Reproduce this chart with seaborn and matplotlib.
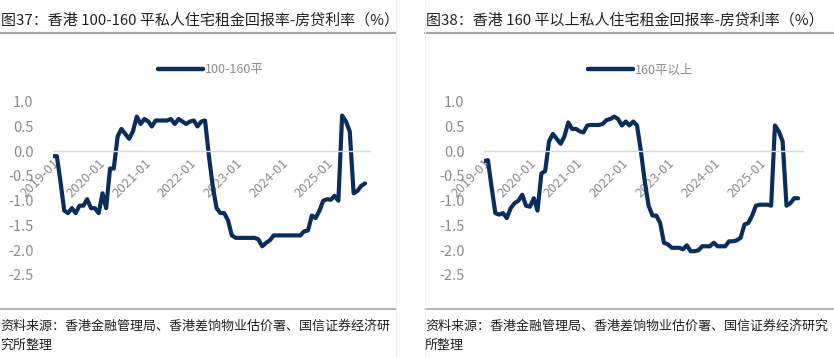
import numpy as np
import matplotlib
matplotlib.use("Agg")
import matplotlib.pyplot as plt
import matplotlib.dates as mdates
import pandas as pd
import seaborn as sns
from matplotlib.lines import Line2D

sns.set_style("white")
plt.rcParams['font.family'] = ['Noto Sans CJK SC', 'DejaVu Sans']
plt.rcParams['axes.unicode_minus'] = False

# monthly, 2019-01 .. 2025-11
small_flat = [
    -0.1, -0.1, -0.6, -1.2, -1.25, -1.15, -1.25, -1.1, -1.1, -0.97, -1.15, -1.15,
    -1.25, -0.85, -1.15, -0.35, -0.35, 0.3, 0.45, 0.35, 0.25, 0.4, 0.7, 0.55,
    0.65, 0.6, 0.5, 0.62, 0.62, 0.62, 0.62, 0.65, 0.55, 0.65, 0.6, 0.55,
    0.6, 0.62, 0.5, 0.6, 0.62, -0.1, -0.7, -1.15, -1.25, -1.25, -1.4, -1.7,
    -1.75, -1.75, -1.75, -1.75, -1.75, -1.75, -1.78, -1.92, -1.85, -1.8, -1.7, -1.7,
    -1.7, -1.7, -1.7, -1.7, -1.7, -1.7, -1.62, -1.6, -1.3, -1.35, -1.2, -1.0,
    -0.97, -0.98, -0.9, -1.0, 0.72, 0.6, 0.4, -0.85, -0.8, -0.7, -0.65,
]
large_flat = [
    -0.2, -0.18, -0.7, -1.25, -1.28, -1.25, -1.35, -1.15, -1.05, -1.0, -0.88, -1.1,
    -1.12, -0.95, -1.2, -0.45, -0.4, 0.2, 0.35, 0.25, 0.15, 0.3, 0.58, 0.45,
    0.45, 0.4, 0.38, 0.52, 0.53, 0.53, 0.53, 0.55, 0.63, 0.65, 0.7, 0.65,
    0.52, 0.6, 0.52, 0.6, 0.52, 0.0, -0.6, -1.1, -1.3, -1.3, -1.45, -1.85,
    -1.88, -1.95, -1.95, -1.95, -1.98, -1.9, -2.02, -2.02, -2.0, -1.92, -1.92, -1.92,
    -1.85, -1.92, -1.92, -1.92, -1.82, -1.82, -1.8, -1.75, -1.48, -1.45, -1.3, -1.1,
    -1.08, -1.08, -1.08, -1.1, 0.52, 0.4, 0.2, -1.1, -1.05, -0.95, -0.95,
]
months = pd.date_range("2019-01-01", periods=len(small_flat), freq="MS")

titles = ["图37：香港 100-160 平私人住宅租金回报率-房贷利率（%）",
          "图38：香港 160 平以上私人住宅租金回报率-房贷利率（%）"]
labels = ["100-160平", "160平以上"]
source = "资料来源：香港金融管理局、香港差饷物业估价署、国信证券经济研"
source_tail = "究所整理"
source2 = "资料来源：香港金融管理局、香港差饷物业估价署、国信证券经济研究"
source2_tail = "所整理"

W, H = 834, 357
navy = "#0b2d5b"
grey = "#8c8c8c"

fig = plt.figure(figsize=(W / 100, H / 100), dpi=100)

def fx(px):
    return px / W

def fy(py):
    return 1 - py / H

panels = [
    (small_flat, labels[0], 53, 370, 153),
    (large_flat, labels[1], 484, 803, 583),
]
for i, (vals, lab, x0, x1, legx) in enumerate(panels):
    ax = fig.add_axes([fx(x0), fy(275), fx(x1 - x0), fy(101.7) - fy(275)])
    df = pd.DataFrame({"month": months, "value": vals})
    sns.lineplot(data=df, x="month", y="value", ax=ax, color=navy,
                 linewidth=3.0, legend=False)
    ax.set_xlim(pd.Timestamp("2019-01-01"), pd.Timestamp("2025-12-10"))
    ax.set_ylim(-2.5, 1.0)
    ax.set_yticks([1.0, 0.5, 0.0, -0.5, -1.0, -1.5, -2.0, -2.5])
    ax.yaxis.set_major_formatter(matplotlib.ticker.FormatStrFormatter("%.1f"))
    ax.set_xlabel("")
    ax.set_ylabel("")
    for s in ["top", "right", "left"]:
        ax.spines[s].set_visible(False)
    ax.spines["bottom"].set_position(("data", 0))
    ax.spines["bottom"].set_color("#d9d9d9")
    ax.spines["bottom"].set_linewidth(1.0)
    ax.xaxis.set_major_locator(mdates.YearLocator(month=1, day=1))
    ax.xaxis.set_major_formatter(mdates.DateFormatter("%Y-%m"))
    ax.tick_params(axis="x", length=3, color="#d9d9d9", labelsize=9.5,
                   labelcolor=grey, pad=1)
    ax.tick_params(axis="y", length=0, labelsize=10.5, labelcolor=grey, pad=14)
    for t in ax.get_xticklabels():
        t.set_rotation(45)
        t.set_ha("right")
        t.set_va("top")
        t.set_rotation_mode("anchor")
    ax.patch.set_alpha(0)
    handle = Line2D([], [], color=navy, linewidth=3.2)
    ax.legend([handle], [lab], loc="center left", frameon=False,
              bbox_to_anchor=(fx(legx - 6), fy(70)), bbox_transform=fig.transFigure,
              handlelength=3.6, handletextpad=0.15, fontsize=9,
              labelcolor=grey)

# titles and rules
fig.text(fx(1), fy(20), titles[0], fontsize=10.8, color="#222222", va="center", ha="left")
fig.text(fx(426), fy(20), titles[1], fontsize=10.8, color="#222222", va="center", ha="left")
for (a, b) in [(0, 396), (425, 834)]:
    fig.add_artist(Line2D([fx(a), fx(b)], [fy(33), fy(33)], color="#a6a6a6", linewidth=1.6))
    fig.add_artist(Line2D([fx(a), fx(b)], [fy(309), fy(309)], color="#a6a6a6", linewidth=1.2))
for xv in [396, 425]:
    fig.add_artist(Line2D([fx(xv), fx(xv)], [0, 1], color="#f0f0f0", linewidth=0.8))

fig.text(fx(0), fy(326), source, fontsize=9.4, color="#222222", va="center", ha="left")
fig.text(fx(0), fy(345), source_tail, fontsize=9.4, color="#222222", va="center", ha="left")
fig.text(fx(425), fy(326), source2, fontsize=9.4, color="#222222", va="center", ha="left")
fig.text(fx(425), fy(345), source2_tail, fontsize=9.4, color="#222222", va="center", ha="left")

fig.savefig("out.png", dpi=100, facecolor="white")
